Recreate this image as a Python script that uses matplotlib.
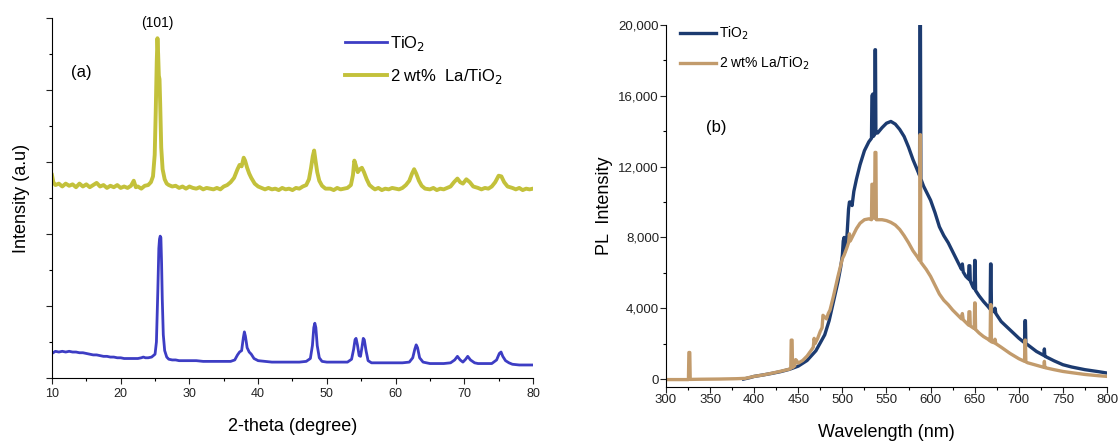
import matplotlib
matplotlib.use("Agg")
import matplotlib.pyplot as plt
from matplotlib.ticker import MultipleLocator, FuncFormatter

plt.rcParams['font.family'] = ['Liberation Sans', 'DejaVu Sans']

# ---- (a) XRD data ----
tio2_2theta = [10.0, 10.5, 11, 11.5, 12, 12.5, 13, 13.5, 14, 14.5, 15, 15.5, 16, 16.5, 17, 17.5, 18, 18.5, 19, 19.5,
               20, 20.5, 21, 21.5, 22, 22.5, 23, 23.3, 23.6, 24, 24.5, 25.0, 25.2, 25.4, 25.55, 25.65, 25.75, 25.85,
               25.95, 26.05, 26.2, 26.4, 26.7, 27, 27.5, 28, 28.5, 29, 29.5, 30, 31, 32, 33, 34, 35, 36, 36.6, 37.0,
               37.3, 37.6, 37.85, 38.0, 38.15, 38.4, 38.7, 39.0, 39.4, 40, 41, 42, 43, 44, 45, 46, 47, 47.6, 47.9,
               48.1, 48.25, 48.4, 48.6, 48.9, 49.3, 50, 51, 52, 53, 53.6, 53.9, 54.1, 54.25, 54.45, 54.7, 54.9, 55.1,
               55.3, 55.45, 55.7, 56.0, 56.5, 57, 58, 59, 60, 61, 62, 62.5, 62.8, 63.0, 63.2, 63.5, 64, 65, 66, 67,
               68, 68.6, 69.0, 69.4, 69.8, 70.2, 70.5, 70.9, 71.5, 72, 73, 74, 74.7, 75.1, 75.35, 75.6, 76, 76.5, 77,
               78, 79, 80]
tio2_int = [0.34, 0.37, 0.36, 0.37, 0.36, 0.37, 0.36, 0.36, 0.35, 0.35, 0.34, 0.33, 0.32, 0.32, 0.31, 0.30, 0.30, 0.29,
            0.29, 0.28, 0.28, 0.27, 0.27, 0.27, 0.27, 0.27, 0.28, 0.29, 0.28, 0.28, 0.29, 0.33, 0.50, 1.20, 1.80, 1.93,
            1.97, 1.95, 1.60, 1.10, 0.60, 0.38, 0.29, 0.26, 0.25, 0.25, 0.24, 0.24, 0.24, 0.24, 0.24, 0.23, 0.23, 0.23,
            0.23, 0.23, 0.25, 0.32, 0.36, 0.38, 0.56, 0.64, 0.58, 0.42, 0.36, 0.33, 0.27, 0.24, 0.23, 0.22, 0.22, 0.22,
            0.22, 0.22, 0.23, 0.27, 0.45, 0.70, 0.76, 0.70, 0.45, 0.28, 0.23, 0.22, 0.22, 0.22, 0.22, 0.26, 0.40, 0.53,
            0.55, 0.46, 0.31, 0.30, 0.42, 0.55, 0.53, 0.38, 0.24, 0.21, 0.21, 0.21, 0.21, 0.21, 0.21, 0.22, 0.28, 0.40,
            0.46, 0.42, 0.28, 0.22, 0.20, 0.20, 0.20, 0.21, 0.25, 0.30, 0.25, 0.22, 0.26, 0.30, 0.25, 0.21, 0.20, 0.20,
            0.20, 0.25, 0.34, 0.36, 0.30, 0.24, 0.21, 0.19, 0.18, 0.18, 0.18]

la_2theta = [10.0, 10.2, 10.5, 11, 11.5, 12, 12.5, 13, 13.5, 14, 14.5, 15, 15.5, 16, 16.5, 17, 17.5, 18, 18.5, 19,
             19.5, 20, 20.5, 21, 21.5, 21.9, 22.2, 22.5, 23, 23.5, 24, 24.4, 24.7, 24.95, 25.1, 25.25, 25.35, 25.45,
             25.55, 25.65, 25.75, 25.9, 26.1, 26.4, 26.7, 27, 27.5, 28, 28.5, 29, 29.5, 30, 30.5, 31, 31.5, 32, 32.5,
             33, 33.5, 34, 34.5, 35, 35.5, 36, 36.5, 37.0, 37.3, 37.6, 37.9, 38.1, 38.4, 38.7, 39.0, 39.5, 40, 40.5,
             41, 41.5, 42, 42.5, 43, 43.5, 44, 44.5, 45, 45.5, 46, 46.5, 47, 47.4, 47.7, 47.95, 48.15, 48.35, 48.6,
             48.9, 49.3, 49.8, 50.5, 51, 51.5, 52, 52.5, 53, 53.5, 53.8, 54.0, 54.2, 54.5, 54.8, 55.1, 55.4, 55.8,
             56.2, 56.7, 57, 57.5, 58, 58.5, 59, 59.5, 60, 60.5, 61, 61.5, 62, 62.4, 62.7, 63.0, 63.4, 63.8, 64.3,
             65, 65.5, 66, 66.5, 67, 67.5, 68, 68.5, 69, 69.4, 69.8, 70.3, 70.8, 71.3, 72, 72.5, 73, 73.5, 74, 74.5,
             75, 75.4, 75.8, 76.3, 77, 77.5, 78, 78.5, 79, 79.5, 80]
la_int = [2.82, 2.72, 2.68, 2.70, 2.66, 2.70, 2.67, 2.69, 2.65, 2.70, 2.66, 2.69, 2.65, 2.68, 2.71, 2.66, 2.68, 2.64,
          2.67, 2.65, 2.68, 2.64, 2.66, 2.64, 2.67, 2.74, 2.65, 2.66, 2.63, 2.67, 2.68, 2.72, 2.80, 3.10, 3.70, 4.40,
          4.72, 4.50, 4.20, 4.15, 3.80, 3.20, 2.90, 2.76, 2.70, 2.68, 2.66, 2.67, 2.64, 2.66, 2.63, 2.66, 2.64, 2.63,
          2.65, 2.62, 2.64, 2.63, 2.62, 2.64, 2.62, 2.66, 2.68, 2.72, 2.78, 2.90, 2.96, 2.94, 3.06, 3.02, 2.92, 2.84,
          2.78, 2.70, 2.66, 2.64, 2.62, 2.64, 2.62, 2.63, 2.61, 2.64, 2.62, 2.63, 2.61, 2.64, 2.63, 2.66, 2.68, 2.76,
          2.92, 3.08, 3.16, 3.02, 2.86, 2.74, 2.67, 2.63, 2.63, 2.61, 2.64, 2.62, 2.63, 2.64, 2.68, 2.82, 3.02, 2.96,
          2.86, 2.90, 2.92, 2.86, 2.76, 2.68, 2.64, 2.62, 2.64, 2.61, 2.63, 2.62, 2.64, 2.63, 2.62, 2.64, 2.68, 2.74,
          2.84, 2.90, 2.84, 2.74, 2.67, 2.63, 2.62, 2.64, 2.61, 2.63, 2.62, 2.64, 2.66, 2.72, 2.77, 2.72, 2.70, 2.76,
          2.72, 2.66, 2.64, 2.62, 2.64, 2.63, 2.66, 2.72, 2.81, 2.80, 2.72, 2.66, 2.64, 2.62, 2.64, 2.61, 2.63, 2.62,
          2.63]

# ---- (b) PL data ----
tio2_nm = [388, 395, 400, 410, 420, 430, 440, 450, 460, 470, 480, 485, 490, 495, 498, 500, 501, 502, 503, 505, 507,
           508, 510, 511, 513, 516, 520, 525, 530, 533, 533.5, 534.5, 535, 536.5, 537, 537.5, 538, 540, 545, 550, 555,
           560, 565, 570, 575, 580, 585, 587.5, 588, 588.5, 589, 592, 596, 600, 605, 610, 615, 620, 625, 630, 635,
           636, 637, 640, 643, 643.5, 644.5, 645, 648, 649.5, 650, 650.5, 651, 655, 660, 665, 667.5, 668, 668.5, 669,
           672, 673, 674, 680, 690, 700, 706.5, 707, 707.5, 708, 710, 720, 728.5, 729, 729.5, 730, 740, 750, 760,
           775, 790, 800]
tio2_pl = [0, 80, 150, 230, 320, 420, 550, 730, 1050, 1600, 2500, 3300, 4400, 5500, 6300, 7000, 7800, 8000, 7200, 7900,
           9600, 10000, 10000, 9800, 10600, 11300, 12100, 12900, 13400, 13600, 16000, 16100, 13700, 13800, 18600,
           18600, 13900, 13900, 14200, 14450, 14550, 14400, 14100, 13700, 13100, 12400, 11800, 11500, 20000, 20000,
           11300, 10900, 10500, 10100, 9400, 8600, 8100, 7700, 7200, 6700, 6200, 6500, 6050, 5800, 5650, 6400, 6400,
           5550, 5200, 5100, 6700, 6700, 5000, 4700, 4380, 4100, 3950, 6500, 6500, 3900, 3800, 4000, 3700, 3250, 2780,
           2310, 2050, 3300, 3300, 2000, 1940, 1560, 1330, 1700, 1300, 1280, 1030, 810, 680, 530, 420, 340]

la_nm = [300, 325.5, 326, 327, 327.5, 340, 360, 380, 390, 400, 410, 420, 430, 440, 441.5, 442, 443, 443.5, 446, 447,
         448, 450, 455, 460, 465, 467, 468, 469, 472, 475, 477, 478, 480, 482, 484, 486, 490, 495, 500, 502, 505, 507,
         508, 509, 512, 516, 520, 525, 530, 533, 533.5, 534.5, 535, 536.5, 537, 538, 538.5, 540, 545, 550, 555, 560,
         565, 570, 575, 580, 585, 587.5, 588, 588.5, 589, 595, 600, 605, 610, 615, 620, 625, 630, 635, 636, 637, 640,
         643, 643.5, 644.5, 645, 649.5, 650, 650.5, 651, 655, 660, 665, 667.5, 668, 668.5, 669, 672, 673, 674, 680,
         690, 700, 706.5, 707, 707.5, 708, 710, 720, 728.5, 729, 729.5, 730, 740, 750, 760, 775, 790, 800]
la_pl = [-30, -30, 1500, 1500, -20, -10, 0, 20, 40, 150, 230, 330, 440, 560, 600, 2200, 2200, 650, 750, 1100, 1050,
         900, 1050, 1300, 1650, 1800, 2300, 2000, 2300, 2700, 2900, 3600, 3500, 3400, 3700, 3900, 4700, 5800, 6800,
         7000, 7400, 7700, 8200, 7800, 8100, 8500, 8800, 9000, 9050, 9000, 11000, 11000, 9100, 9100, 12800, 12800,
         9000, 9000, 9000, 8950, 8850, 8700, 8450, 8100, 7700, 7250, 6900, 6700, 13800, 13800, 6600, 6200, 5800,
         5300, 4800, 4450, 4200, 3900, 3650, 3400, 3700, 3350, 3200, 3050, 3800, 3800, 3000, 2850, 4300, 4300, 2800,
         2600, 2400, 2250, 2150, 4200, 4200, 2100, 2050, 2250, 2000, 1800, 1450, 1150, 1000, 2200, 2200, 970, 920,
         780, 660, 1000, 650, 640, 530, 430, 360, 260, 190, 150]

fig = plt.figure(figsize=(11.2, 4.41), dpi=100)

# left panel (a)
ax1 = fig.add_axes([0.0464, 0.143, 0.4295, 0.816])
ax1.plot(tio2_2theta, tio2_int, color='#3d3dc4', lw=2.0, label='TiO$_2$')
ax1.plot(la_2theta, la_int, color='#c3c13b', lw=2.8, label='2 wt%  La/TiO$_2$')
ax1.set_xlim(10, 80)
ax1.set_ylim(0, 5)
ax1.xaxis.set_major_locator(MultipleLocator(10))
ax1.xaxis.set_minor_locator(MultipleLocator(5))
ax1.yaxis.set_major_locator(MultipleLocator(1))
ax1.yaxis.set_minor_locator(MultipleLocator(0.5))
ax1.set_yticklabels([])
ax1.tick_params(which='major', direction='out', length=4, width=0.8, labelsize=9, colors='#222222')
ax1.tick_params(which='minor', direction='out', length=2.5, width=0.8)
for s in ['top', 'right']:
    ax1.spines[s].set_visible(False)
ax1.set_xlabel('2-theta (degree)', fontsize=13, labelpad=13)
ax1.set_ylabel('Intensity (a.u)', fontsize=13, labelpad=8)
ax1.text(25.3, 4.93, '(101)', ha='center', va='center', fontsize=10)
ax1.text(14.2, 4.24, '(a)', ha='center', va='center', fontsize=12)
ax1.legend(loc='upper left', bbox_to_anchor=(0.595, 0.975), frameon=False, fontsize=12,
           handlelength=2.5, handletextpad=0.2, labelspacing=0.85, borderaxespad=0)

# right panel (b)
ax2 = fig.add_axes([0.5946, 0.1224, 0.3938, 0.821])
ax2.plot(tio2_nm, tio2_pl, color='#1c3b70', lw=2.4, label='TiO$_2$')
ax2.plot(la_nm, la_pl, color='#c29b6c', lw=2.4, label='2 wt% La/TiO$_2$')
ax2.set_xlim(300, 800)
ax2.set_ylim(-450, 20000)
ax2.xaxis.set_major_locator(MultipleLocator(50))
ax2.xaxis.set_minor_locator(MultipleLocator(25))
ax2.yaxis.set_major_locator(MultipleLocator(4000))
ax2.yaxis.set_minor_locator(MultipleLocator(2000))
ax2.yaxis.set_major_formatter(FuncFormatter(lambda v, p: '{:,}'.format(int(v))))
ax2.tick_params(which='major', direction='out', length=4, width=0.8, labelsize=9.5, colors='#222222', pad=1)
ax2.tick_params(which='minor', direction='out', length=2.5, width=0.8)
for s in ['top', 'right']:
    ax2.spines[s].set_visible(False)
ax2.set_xlabel('Wavelength (nm)', fontsize=13, labelpad=13)
ax2.set_ylabel('PL  Intensity', fontsize=13, labelpad=4)
ax2.text(357, 14200, '(b)', ha='center', va='center', fontsize=12)
ax2.legend(loc='upper left', bbox_to_anchor=(0.02, 1.015), frameon=False, fontsize=10,
           handlelength=2.6, handletextpad=0.2, labelspacing=0.9, borderaxespad=0)

plt.savefig('out.png', dpi=100)
